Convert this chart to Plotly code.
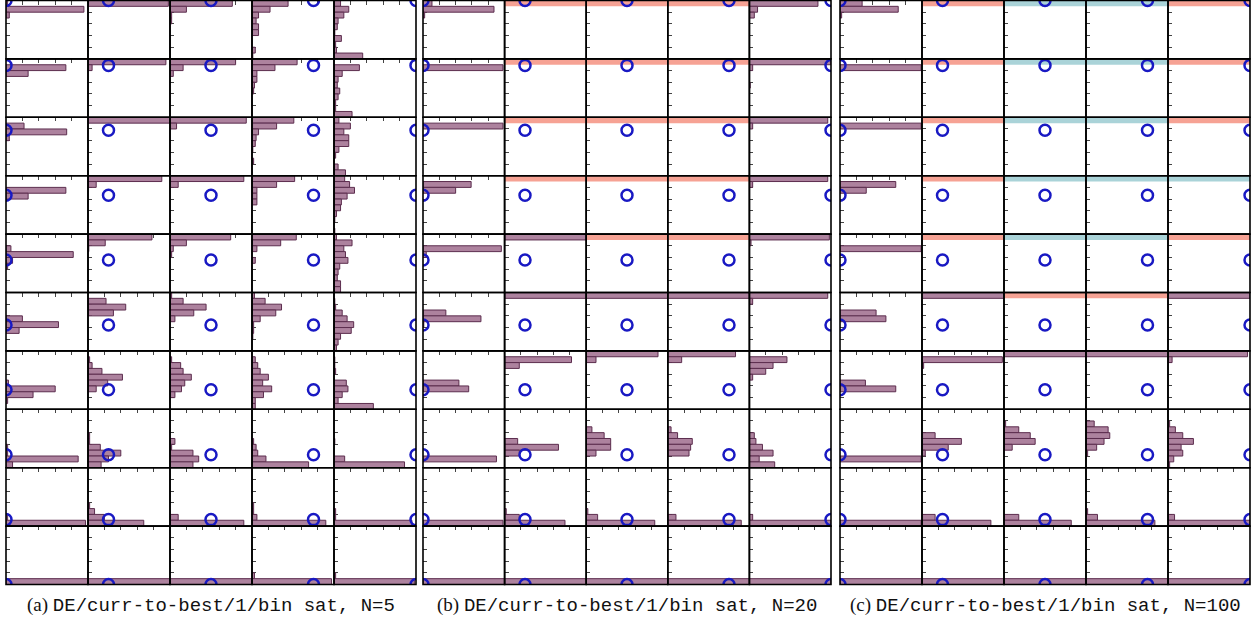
import plotly.graph_objects as go

# ---------------- data ----------------
bin_centers = [0.05, 0.15, 0.25, 0.35, 0.45, 0.55, 0.65, 0.75, 0.85, 0.95]
true_x = [0.0, 0.25, 0.5, 0.75, 1.0]
true_y = [0.0, 0.111, 0.222, 0.333, 0.444, 0.556, 0.667, 0.778, 0.889, 1.0]
axis_ticks = [0.2, 0.4, 0.6, 0.8]

TOP = [1.0, 0, 0, 0, 0, 0, 0, 0, 0, 0]
BOT = [0, 0, 0, 0, 0, 0, 0, 0, 0, 1.0]

captions = ["(a)", "(b)", "(c)"]
caption_texts = ["DE/curr-to-best/1/bin sat, N=5",
                 "DE/curr-to-best/1/bin sat, N=20",
                 "DE/curr-to-best/1/bin sat, N=100"]

# colour code per cell: p = purple, r = red, t = teal
colors_a = ["ppppp"] * 10
colors_b = ["prrrp", "prrrp", "prrrp", "prrrp", "pprrp",
            "ppppp", "ppppp", "ppppp", "ppppp", "ppppp"]
colors_c = ["prttr", "prttr", "prttr", "prttt", "prttr",
            "pprrp", "ppppp", "ppppp", "ppppp", "ppppp"]

hist_a = [
    [[0.02, 0.95, 0.04, 0, 0, 0, 0, 0, 0, 0],
     [0.98, 0, 0, 0, 0, 0, 0, 0, 0, 0],
     [0.76, 0.20, 0.02, 0.02, 0, 0, 0, 0, 0, 0],
     [0.44, 0.22, 0.08, 0.05, 0.08, 0.08, 0, 0, 0.04, 0.01],
     [0.08, 0.18, 0.12, 0.05, 0.04, 0.01, 0.09, 0.02, 0.03, 0.35]],
    [[0, 0.73, 0.27, 0, 0, 0, 0, 0, 0, 0],
     [0.95, 0.05, 0, 0, 0, 0, 0, 0, 0, 0],
     [0.80, 0.16, 0.04, 0, 0, 0, 0, 0, 0, 0],
     [0.55, 0.28, 0.06, 0.06, 0.03, 0.02, 0, 0, 0, 0],
     [0, 0.31, 0.10, 0.05, 0.04, 0.07, 0.05, 0.02, 0.02, 0.22]],
    [[0, 0.22, 0.74, 0.04, 0, 0, 0, 0, 0, 0],
     [1.0, 0, 0, 0, 0, 0, 0, 0, 0, 0],
     [0.93, 0.08, 0, 0, 0, 0, 0, 0, 0, 0],
     [0.51, 0.30, 0.08, 0.05, 0.04, 0.01, 0, 0.02, 0, 0],
     [0.06, 0.20, 0.12, 0.18, 0.18, 0.06, 0.02, 0, 0.05, 0.14]],
    [[0, 0, 0.73, 0.27, 0, 0, 0, 0, 0, 0],
     [0.90, 0.10, 0, 0, 0, 0, 0, 0, 0, 0],
     [0.90, 0.10, 0, 0, 0, 0, 0, 0, 0, 0],
     [0.52, 0.30, 0.06, 0.06, 0.06, 0, 0, 0, 0, 0],
     [0.13, 0.19, 0.25, 0.16, 0.09, 0.08, 0.03, 0.01, 0, 0.01]],
    [[0, 0, 0.06, 0.82, 0.08, 0.02, 0, 0, 0, 0],
     [0.78, 0.21, 0.01, 0, 0, 0, 0, 0, 0, 0],
     [0.74, 0.20, 0.04, 0.02, 0, 0, 0, 0, 0, 0],
     [0.54, 0.35, 0.06, 0, 0.04, 0, 0, 0, 0, 0],
     [0.03, 0.22, 0.12, 0.14, 0.17, 0.07, 0.05, 0.04, 0.08, 0.08]],
    [[0, 0, 0, 0, 0.20, 0.64, 0.16, 0, 0, 0],
     [0, 0.22, 0.46, 0.31, 0, 0, 0, 0, 0, 0],
     [0.02, 0.16, 0.44, 0.29, 0.06, 0, 0, 0, 0, 0],
     [0.03, 0.16, 0.36, 0.29, 0.10, 0.02, 0.02, 0.01, 0, 0],
     [0, 0.01, 0.02, 0.10, 0.16, 0.24, 0.21, 0.08, 0.05, 0.03]],
    [[0, 0, 0, 0, 0, 0.03, 0.60, 0.33, 0.02, 0],
     [0, 0.02, 0.05, 0.17, 0.42, 0.24, 0.10, 0, 0, 0],
     [0, 0.02, 0.13, 0.16, 0.26, 0.18, 0.14, 0.06, 0, 0],
     [0, 0.04, 0.07, 0.10, 0.20, 0.13, 0.24, 0.14, 0.04, 0.04],
     [0, 0.01, 0.01, 0.02, 0, 0.15, 0.17, 0.10, 0.05, 0.48]],
    [[0, 0, 0, 0, 0, 0, 0.02, 0.02, 0.88, 0.08],
     [0, 0, 0, 0, 0.02, 0.02, 0.15, 0.40, 0.25, 0.16],
     [0, 0, 0, 0, 0, 0.06, 0.02, 0.28, 0.35, 0.28],
     [0, 0, 0, 0, 0, 0.02, 0.05, 0.07, 0.17, 0.69],
     [0, 0, 0, 0, 0, 0.01, 0, 0, 0.13, 0.86]],
    [[0, 0, 0, 0, 0, 0, 0, 0, 0.02, 0.97],
     [0, 0, 0, 0, 0, 0, 0.02, 0.08, 0.20, 0.68],
     [0, 0, 0, 0, 0, 0, 0, 0, 0.10, 0.90],
     [0, 0, 0, 0, 0, 0, 0.02, 0.02, 0.06, 0.90],
     [0, 0, 0, 0, 0, 0, 0, 0.02, 0.02, 0.95]],
    [BOT, BOT, BOT,
     [0, 0, 0, 0, 0, 0, 0, 0, 0.03, 0.97],
     [0, 0, 0, 0, 0, 0, 0, 0, 0.02, 0.98]],
]

hist_b = [
    [[0.11, 0.87, 0.02, 0, 0, 0, 0, 0, 0, 0], TOP, TOP, TOP,
     [0.84, 0.10, 0.06, 0, 0, 0, 0, 0, 0, 0]],
    [[0, 0.98, 0, 0, 0, 0, 0, 0, 0, 0], TOP, TOP, TOP,
     [1.0, 0.04, 0, 0, 0.01, 0, 0, 0, 0, 0]],
    [[0, 0.98, 0, 0, 0, 0, 0, 0, 0, 0], TOP, TOP, TOP,
     [0.96, 0.04, 0, 0, 0, 0, 0, 0, 0, 0]],
    [[0, 0.59, 0.40, 0, 0, 0, 0, 0, 0, 0], TOP, TOP, TOP,
     [0.96, 0.04, 0, 0, 0, 0, 0, 0, 0, 0]],
    [[0, 0, 0.96, 0.04, 0, 0, 0, 0, 0, 0], TOP, TOP, TOP,
     [0.98, 0.02, 0, 0, 0, 0, 0, 0, 0, 0]],
    [[0, 0, 0, 0.28, 0.71, 0.01, 0, 0, 0, 0], TOP, TOP, TOP,
     [0.96, 0.04, 0, 0, 0, 0, 0, 0, 0, 0]],
    [[0, 0, 0, 0, 0, 0.44, 0.56, 0, 0, 0],
     [0, 0.82, 0.18, 0, 0, 0, 0, 0, 0, 0],
     [0.88, 0.12, 0, 0, 0, 0, 0, 0, 0, 0],
     [0.83, 0.17, 0, 0, 0, 0, 0, 0, 0, 0],
     [0, 0.46, 0.29, 0.20, 0.04, 0, 0, 0, 0, 0]],
    [[0, 0, 0, 0, 0, 0, 0, 0, 0.90, 0],
     [0, 0, 0, 0, 0, 0.16, 0.66, 0.18, 0, 0],
     [0, 0, 0, 0.07, 0.22, 0.30, 0.30, 0.12, 0, 0],
     [0, 0, 0, 0.04, 0.12, 0.30, 0.28, 0.26, 0, 0],
     [0, 0, 0, 0, 0.06, 0.08, 0.16, 0.29, 0.12, 0.31]],
    [[0, 0, 0, 0, 0, 0, 0, 0, 0, 0.98],
     [0, 0, 0, 0, 0, 0, 0, 0.02, 0.18, 0.74],
     [0, 0, 0, 0, 0, 0, 0, 0.02, 0.14, 0.84],
     [0, 0, 0, 0, 0, 0, 0, 0, 0.10, 0.90],
     [0, 0, 0, 0, 0, 0, 0, 0, 0.04, 1.0]],
    [BOT, BOT, BOT, BOT, BOT],
]

hist_c = [
    [[0.27, 0.71, 0.02, 0, 0, 0, 0, 0, 0, 0], TOP, TOP, TOP, TOP],
    [[0, 0.99, 0, 0, 0, 0, 0, 0, 0, 0], TOP, TOP, TOP, TOP],
    [[0, 0.99, 0, 0, 0, 0, 0, 0, 0, 0], TOP, TOP, TOP, TOP],
    [[0, 0.68, 0.32, 0, 0, 0, 0, 0, 0, 0], TOP, TOP, TOP, TOP],
    [[0, 0, 0.99, 0, 0, 0, 0, 0, 0, 0], TOP, TOP, TOP, TOP],
    [[0, 0, 0, 0.44, 0.56, 0, 0, 0, 0, 0], TOP, TOP, TOP, TOP],
    [[0, 0, 0, 0, 0, 0.31, 0.68, 0, 0, 0],
     [0, 0.98, 0.02, 0, 0, 0, 0, 0, 0, 0],
     TOP, TOP,
     [0.97, 0.05, 0, 0, 0, 0, 0, 0, 0, 0]],
    [[0, 0, 0, 0, 0, 0, 0, 0, 0.99, 0],
     [0, 0, 0, 0, 0.16, 0.48, 0.32, 0.04, 0, 0],
     [0, 0, 0.02, 0.18, 0.32, 0.38, 0.10, 0, 0, 0],
     [0, 0, 0.10, 0.27, 0.29, 0.22, 0.13, 0.02, 0, 0],
     [0, 0, 0.02, 0.09, 0.18, 0.31, 0.16, 0.18, 0.07, 0.02]],
    [[0, 0, 0, 0, 0, 0, 0, 0, 0, 0.99],
     [0, 0, 0, 0, 0, 0, 0, 0, 0.16, 0.84],
     [0, 0, 0, 0, 0, 0, 0, 0, 0.18, 0.82],
     [0, 0, 0, 0, 0, 0, 0, 0.02, 0.14, 0.84],
     [0, 0, 0, 0, 0, 0, 0, 0, 0.08, 1.0]],
    [BOT, BOT, BOT, BOT, BOT],
]

# ---------------- styling / layout ----------------
W, H = 1254, 624
panel_left = [6, 423, 840]
cell_w = [82.0, 81.6, 82.0]
row_top0 = 0.5
row_h = 58.4

FILL = {"p": "rgb(173,130,158)", "r": "rgb(246,162,148)", "t": "rgb(170,211,216)"}
EDGE = {"p": "rgb(92,45,78)", "r": "rgba(0,0,0,0)", "t": "rgba(0,0,0,0)"}
EDGE_W = {"p": 1, "r": 0, "t": 0}
CIRCLE = "rgb(25,25,195)"

fig = go.Figure()
layout_axes = {}
shapes = []

panels = [(hist_a, colors_a), (hist_b, colors_b), (hist_c, colors_c)]
k = 0
for p, (hist, cols) in enumerate(panels):
    for r in range(10):
        for c in range(5):
            k += 1
            xs = "" if k == 1 else str(k)
            x0 = (panel_left[p] + c * cell_w[p]) / W
            x1 = (panel_left[p] + (c + 1) * cell_w[p]) / W
            top = row_top0 + r * row_h
            y1 = 1 - top / H
            y0 = 1 - (top + row_h) / H
            code = cols[r][c]
            vals = [v if v > 0 else None for v in hist[r][c]]
            fig.add_trace(go.Bar(
                x=vals, y=bin_centers, orientation="h", width=0.1,
                marker=dict(color=FILL[code],
                            line=dict(color=EDGE[code], width=EDGE_W[code])),
                xaxis="x" + xs, yaxis="y" + xs, showlegend=False,
                hoverinfo="skip"))
            fig.add_trace(go.Scatter(
                x=[true_x[c]], y=[true_y[r]], mode="markers",
                marker=dict(symbol="circle-open", size=11, color=CIRCLE,
                            line=dict(width=2.5, color=CIRCLE)),
                cliponaxis=True, xaxis="x" + xs, yaxis="y" + xs,
                showlegend=False, hoverinfo="skip"))
            layout_axes["xaxis" + xs] = dict(
                domain=[x0, x1], range=[0, 1], anchor="y" + xs, side="top",
                ticks="inside", tickvals=axis_ticks, ticklen=4, tickwidth=1,
                tickcolor="#444", showticklabels=False, showgrid=False,
                zeroline=False, showline=False, layer="below traces",
                fixedrange=True)
            layout_axes["yaxis" + xs] = dict(
                domain=[y0, y1], range=[1, 0], anchor="x" + xs, side="left",
                ticks="inside", tickvals=axis_ticks, ticklen=4, tickwidth=1,
                tickcolor="#444", showticklabels=False, showgrid=False,
                zeroline=False, showline=False, layer="below traces",
                fixedrange=True)
            shapes.append(dict(type="rect", xref="x" + xs + " domain",
                               yref="y" + xs + " domain", x0=0, x1=1, y0=0, y1=1,
                               line=dict(color="black", width=1.6), layer="above"))

annotations = []
for p in range(3):
    cx = (panel_left[p] + 2.5 * cell_w[p]) / W
    annotations.append(dict(
        x=cx, y=1 - 605 / H, xref="paper", yref="paper",
        xanchor="center", yanchor="middle", showarrow=False,
        text=(captions[p] + ' <span style="font-family:\'Liberation Mono\', monospace">'
              + caption_texts[p] + "</span>"),
        font=dict(family="Liberation Serif, serif", size=19, color="#111")))

fig.update_layout(
    width=W, height=H, margin=dict(l=0, r=0, t=0, b=0),
    paper_bgcolor="white", plot_bgcolor="white",
    barmode="overlay", shapes=shapes, annotations=annotations,
    **layout_axes)

fig.write_html("out.html")
